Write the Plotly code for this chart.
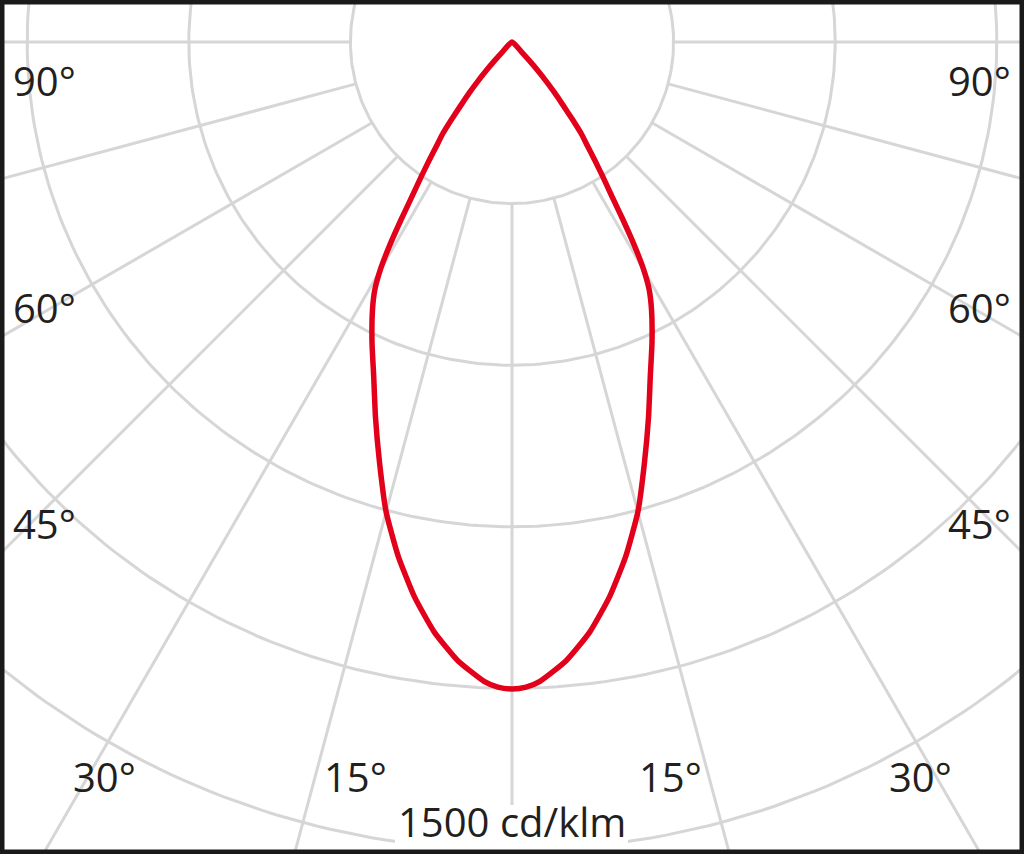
import numpy as np
import plotly.graph_objects as go

# ---- data (cd/klm vs. angle from nadir, degrees) ----
angles = [-45, -44, -43, -42, -41, -40, -39, -38, -37, -36, -35, -34, -33, -32, -31, -30, -29,
          -27.5, -25, -22.5, -20, -17.5, -15, -12.5, -10, -7.5, -5, -2.5, -1.25,
          0,
          1.25, 2.5, 5, 7.5, 10, 12.5, 15, 17.5, 20, 22.5, 25, 27.5, 29, 30, 31, 32, 33, 34, 35,
          36, 37, 38, 39, 40, 41, 42, 43, 44, 45]
intensity = [0, 24, 48, 72, 98, 124, 149, 181, 215, 238, 268, 301, 338, 388, 442, 490, 525,
             561, 615, 671, 741, 818, 903, 977, 1045, 1105, 1153, 1188, 1198,
             1201,
             1198, 1188, 1153, 1105, 1045, 977, 903, 818, 741, 671, 615, 561, 525, 490, 442, 388,
             338, 301, 268, 238, 215, 181, 149, 124, 98, 72, 48, 24, 0]

ring_values = [300, 600, 900, 1200, 1500, 1800]
spoke_angles = [-90, -75, -60, -45, -30, -15, 0, 15, 30, 45, 60, 75, 90]
label_text = ["90°", "60°", "45°", "30°", "15°", "15°", "30°", "45°", "60°", "90°"]
scale_label = "1500 cd/klm"

# ---- layout geometry ----
W, H = 1024, 854
CX, CY = 512, 42              # pole position in pixels
PX_PER_RING = 161.6
k = ring_values[0] / PX_PER_RING  # cd/klm per pixel

GRID = "#d6d6d6"
RED = "#e2001a"
TXT = "#231f20"


def to_xy(theta_deg, r):
    t = np.radians(np.asarray(theta_deg, dtype=float))
    r = np.asarray(r, dtype=float)
    return r * np.sin(t), -r * np.cos(t)


fig = go.Figure()

# rings
gx, gy = [], []
full = np.arange(0, 361, 1)
for R in ring_values:
    x, y = to_xy(full, np.full(full.shape, R))
    gx += list(x) + [None]
    gy += list(y) + [None]
# spokes
for a in spoke_angles:
    x, y = to_xy([a, a], [ring_values[0], 3000])
    gx += list(x) + [None]
    gy += list(y) + [None]
fig.add_trace(go.Scatter(x=gx, y=gy, mode="lines", line=dict(color=GRID, width=3),
                         hoverinfo="skip", showlegend=False))

# luminous intensity curve
cx_, cy_ = to_xy(angles, intensity)
fig.add_trace(go.Scatter(x=cx_, y=cy_, mode="lines",
                         line=dict(color=RED, width=5.5, shape="spline", smoothing=0.5),
                         showlegend=False, name="I"))

# labels (pixel positions -> paper)
label_pos = [(44, 80), (44, 308), (44, 523), (104, 776), (355, 776),
             (670, 776), (920, 776), (979, 523), (979, 308), (979, 80)]
ann = []
for txt, (px, py) in zip(label_text, label_pos):
    ann.append(dict(text=txt, x=px / W, y=1 - py / H, xref="paper", yref="paper",
                    xanchor="center", yanchor="middle", showarrow=False,
                    font=dict(family="Open Sans", size=40, color=TXT)))
ann.append(dict(text=scale_label, x=512 / W, y=1 - 821 / H, xref="paper", yref="paper",
                xanchor="center", yanchor="middle", showarrow=False,
                font=dict(family="Open Sans", size=40, color=TXT)))

fig.update_layout(
    width=W, height=H,
    margin=dict(l=0, r=0, t=0, b=0),
    paper_bgcolor="white", plot_bgcolor="white",
    xaxis=dict(range=[-CX * k, (W - CX) * k], visible=False, fixedrange=True),
    yaxis=dict(range=[-(H - CY) * k, CY * k], visible=False, fixedrange=True),
    annotations=ann,
    shapes=[
        # white knock-out behind the scale label
        dict(type="rect", xref="paper", yref="paper", x0=395 / W, x1=628 / W,
             y0=0, y1=1 - 805 / H, fillcolor="white", line=dict(width=0), layer="above"),
        dict(type="rect", xref="paper", yref="paper", x0=0, y0=0, x1=1, y1=1,
             line=dict(color="#1a1a1a", width=9), layer="above"),
    ],
    showlegend=False,
)

fig.write_html("out.html")
